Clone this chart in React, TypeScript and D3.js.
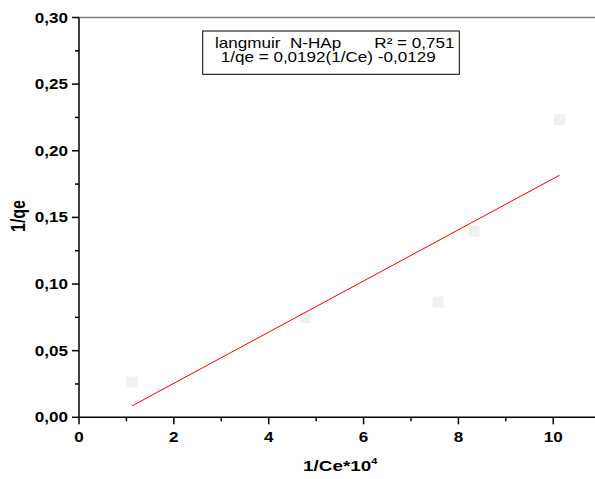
import React from "react";
import * as d3 from "d3";

const xValues = [1.12, 4.77, 7.57, 8.33, 10.13];
const yValues = [0.0265, 0.0749, 0.0865, 0.1397, 0.2234];
const fitX = [1.12, 10.13];
const fitY = [0.0086, 0.1816];
const xTicks = [0, 2, 4, 6, 8, 10];
const xMinorTicks = [1, 3, 5, 7, 9];
const yTicks = [0, 0.05, 0.1, 0.15, 0.2, 0.25, 0.3];
const yMinorTicks = [0.025, 0.075, 0.125, 0.175, 0.225, 0.275];
const legendLine1 = ["langmuir", "N-HAp", "R² = 0,751"];
const legendLine2 = "1/qe = 0,0192(1/Ce) -0,0129";
const xTitle = "1/Ce*10";
const xTitleSup = "4";
const yTitle = "1/qe";

const W = 595;
const H = 479;
const SX = 1.22;
const FONT = "Arial, 'Liberation Sans', sans-serif";

const locale = d3.formatLocale({ decimal: ",", thousands: ".", grouping: [3], currency: ["", ""] });
const fmtY = locale.format(".2f");

export default function App() {
  const x = d3.scaleLinear().domain([0, 10.8]).range([79, 591.2]);
  const y = d3.scaleLinear().domain([0, 0.3]).range([417.3, 17.5]);
  const line = d3.line<number>().x((d) => x(fitX[d])).y((d) => y(fitY[d]));

  const st = (tx: number, ty: number) => `translate(${tx},${ty}) scale(${SX},1)`;

  return (
    <svg
      width={W}
      height={H}
      style={{ position: "absolute", left: 0, top: 0, background: "#fff" }}
      fontFamily={FONT}
    >
      <rect x={0} y={0} width={W} height={H} fill="#fff" />
      {/* top frame */}
      <line x1={x(0)} x2={W} y1={y(0.3)} y2={y(0.3)} stroke="#808080" strokeWidth={1.5} />
      {/* points */}
      {xValues.map((v, i) => (
        <rect key={i} x={x(v) - 5.5} y={y(yValues[i]) - 5.5} width={11} height={11} fill="#eff0ef" />
      ))}
      {/* fit line */}
      <path d={line([0, 1]) || ""} stroke="#ff0000" strokeWidth={1} fill="none" />
      {/* axes */}
      <line x1={x(0)} x2={x(0)} y1={y(0.3)} y2={y(0)} stroke="#000" strokeWidth={1.5} />
      <line x1={x(0)} x2={W} y1={y(0)} y2={y(0)} stroke="#000" strokeWidth={1.5} />
      {yTicks.map((t) => (
        <g key={"y" + t}>
          <line x1={x(0) - 7} x2={x(0)} y1={y(t)} y2={y(t)} stroke="#000" strokeWidth={1.5} />
          <text
            transform={st(68, y(t) + 5)}
            textAnchor="end"
            fontSize={14}
            fontWeight="bold"
            fill="#000"
          >
            {fmtY(t)}
          </text>
        </g>
      ))}
      {yMinorTicks.map((t) => (
        <line key={"ym" + t} x1={x(0) - 4} x2={x(0)} y1={y(t)} y2={y(t)} stroke="#000" strokeWidth={1.5} />
      ))}
      {xTicks.map((t) => (
        <g key={"x" + t}>
          <line x1={x(t)} x2={x(t)} y1={y(0)} y2={y(0) + 7} stroke="#000" strokeWidth={1.5} />
          <text transform={st(x(t), 442)} textAnchor="middle" fontSize={14} fontWeight="bold" fill="#000">
            {t}
          </text>
        </g>
      ))}
      {xMinorTicks.map((t) => (
        <line key={"xm" + t} x1={x(t)} x2={x(t)} y1={y(0)} y2={y(0) + 4} stroke="#000" strokeWidth={1.5} />
      ))}
      {/* axis titles */}
      <text transform={st(303, 471)} fontSize={15.5} fontWeight="bold" fill="#000">
        {xTitle}
        <tspan fontSize={9} dy={-7}>
          {xTitleSup}
        </tspan>
      </text>
      <text
        transform={`translate(25,216) scale(${SX},1) rotate(-90)`}
        textAnchor="middle"
        fontSize={16}
        fontWeight="bold"
        fill="#000"
      >
        {yTitle}
      </text>
      {/* legend */}
      <rect x={202.7} y={31} width={256.6} height={43.3} fill="#fff" stroke="#000" strokeWidth={1} />
      <text transform={st(215, 47.7)} fontSize={14} fill="#000">
        {legendLine1[0]}
      </text>
      <text transform={st(290, 47.7)} fontSize={14} fill="#000">
        {legendLine1[1]}
      </text>
      <text transform={st(374.3, 47.7)} fontSize={14} fill="#000">
        {legendLine1[2]}
      </text>
      <text transform={st(220.7, 61.7)} fontSize={14} fill="#000">
        {legendLine2}
      </text>
    </svg>
  );
}
